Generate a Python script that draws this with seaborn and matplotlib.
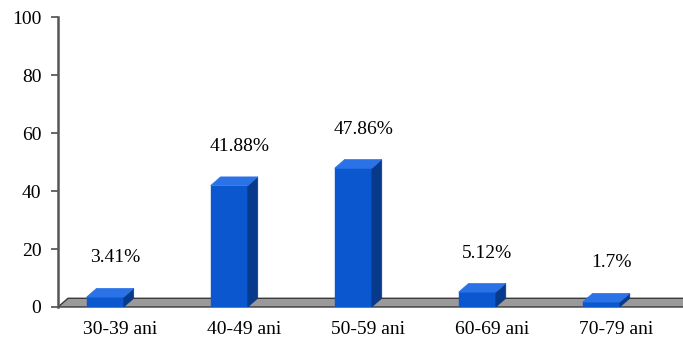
import matplotlib
matplotlib.use("Agg")
import matplotlib.pyplot as plt
from matplotlib.patches import Polygon
import seaborn as sns
import pandas as pd

categories = ["30-39 ani", "40-49 ani", "50-59 ani", "60-69 ani", "70-79 ani"]
values = [3.41, 41.88, 47.86, 5.12, 1.7]
labels = ["3.41%", "41.88%", "47.86%", "5.12%", "1.7%"]
yticks = [0, 20, 40, 60, 80, 100]

sns.set_theme(style="white")
plt.rcParams["font.family"] = ["Liberation Serif", "DejaVu Serif"]

df = pd.DataFrame({"cat": categories, "val": values})

fig = plt.figure(figsize=(6.83, 3.43), dpi=100)
ax = fig.add_axes([0.085, 0.105, 0.917, 0.845])

FRONT = "#0b57d0"
SIDE = "#083a8c"
TOP = "#2a72e6"
DX, DY = 0.08, 3.0
SHIFT = -0.12
FS = 14

sns.barplot(data=df, x="cat", y="val", color=FRONT, width=0.3, ax=ax,
            saturation=1, zorder=3)

ax.set_xlim(-0.5, 4.55)
ax.set_ylim(0, 100)

# floor
floor = Polygon([(-0.5, 0), (4.6, 0), (4.6 + DX, DY), (-0.5 + DX, DY)],
                closed=True, facecolor="#9a9a9a", edgecolor="#3a3a3a",
                linewidth=1.0, zorder=2, clip_on=False)
ax.add_patch(floor)

for p in ax.patches:
    if p is floor:
        continue
    p.set_x(p.get_x() + SHIFT)
    p.set_edgecolor(FRONT)
    x0, w, h = p.get_x(), p.get_width(), p.get_height()
    top = Polygon([(x0, h), (x0 + w, h), (x0 + w + DX, h + DY), (x0 + DX, h + DY)],
                  closed=True, facecolor=TOP, edgecolor=TOP, lw=0.5, zorder=3)
    side = Polygon([(x0 + w, 0), (x0 + w + DX, DY), (x0 + w + DX, h + DY), (x0 + w, h)],
                   closed=True, facecolor=SIDE, edgecolor=SIDE, lw=0.5, zorder=3)
    ax.add_patch(side)
    ax.add_patch(top)

for i, (v, lab) in enumerate(zip(values, labels)):
    ax.text(i - 0.04, v + 13.5, lab, ha="center", va="center", fontsize=FS,
            color="black")

ax.set_yticks(yticks)
ax.set_yticklabels([str(t) for t in yticks], fontsize=FS, color="black")
ax.set_xticks(range(len(categories)))
ax.set_xticklabels(categories, fontsize=FS, color="black")
ax.set_xticks([-0.5 + i for i in range(6)], minor=True)
ax.tick_params(axis="x", which="major", length=0, pad=10)
ax.tick_params(axis="x", which="minor", length=4, color="#555555", direction="out")
ax.tick_params(axis="y", length=5, color="#555555", direction="out", left=True, pad=7)
ax.set_xlabel("")
ax.set_ylabel("")

for s in ["top", "right", "bottom"]:
    ax.spines[s].set_visible(False)
ax.spines["left"].set_color("#555555")
ax.spines["left"].set_linewidth(1.8)

fig.savefig("out.png", dpi=100)
